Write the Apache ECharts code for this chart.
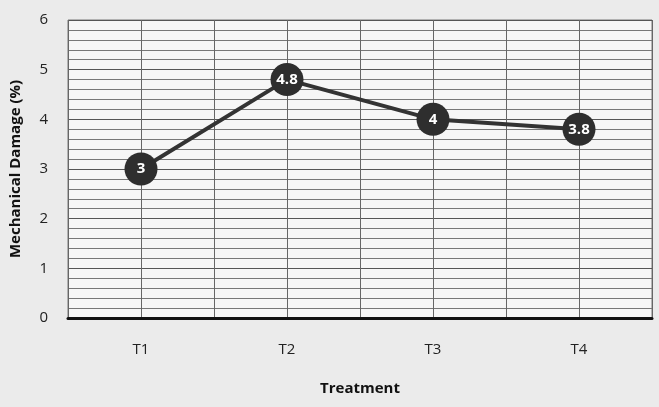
<!DOCTYPE html>
<html><head><meta charset="utf-8">
<script src="https://cdn.jsdelivr.net/npm/echarts@6/dist/echarts.min.js"></script>
<style>html,body{margin:0;padding:0;background:#ebebeb;}#c{width:659px;height:407px;}</style>
</head><body><div id="c"></div>
<script>
var categories = ['T1', 'T2', 'T3', 'T4'];
var damage = [3, 4.8, 4, 3.8];
var yTicks = [0, 1, 2, 3, 4, 5, 6];

var chart = echarts.init(document.getElementById('c'));
var font = 'Open Sans';
chart.setOption({
  backgroundColor: '#ebebeb',
  textStyle: { fontFamily: font },
  grid: { left: 68, right: 7, top: 20, bottom: 89, show: true, backgroundColor: '#f6f6f6', borderColor: '#777', borderWidth: 1 },
  xAxis: [{
    type: 'category',
    data: categories,
    boundaryGap: true,
    name: 'Treatment',
    nameLocation: 'middle',
    nameGap: 63,
    nameTextStyle: { fontWeight: 'bold', fontSize: 15, color: '#111', fontFamily: font },
    axisLine: { lineStyle: { color: '#111', width: 3 } },
    axisTick: { show: false },
    axisLabel: { fontSize: 15, color: '#222', margin: 24, fontFamily: font },
    splitLine: { show: false }
  }, {
    type: 'value',
    min: 0, max: 8, interval: 1,
    position: 'bottom',
    axisLine: { show: false }, axisTick: { show: false }, axisLabel: { show: false },
    splitLine: { show: true, lineStyle: { color: '#666', width: 1 } }
  }],
  yAxis: {
    type: 'value',
    min: 0, max: 6, interval: 1,
    name: 'Mechanical Damage (%)',
    nameLocation: 'middle',
    nameGap: 45,
    nameTextStyle: { fontWeight: 'bold', fontSize: 15, color: '#111', fontFamily: font },
    axisLine: { show: false },
    axisTick: { show: false },
    axisLabel: { fontSize: 15, color: '#222', margin: 20, fontFamily: font, formatter: function (v) { return yTicks.indexOf(v) >= 0 ? String(v) : ''; } },
    splitLine: { show: true, lineStyle: { color: '#555', width: 1 } },
    minorTick: { show: false, splitNumber: 5 },
    minorSplitLine: { show: true, lineStyle: { color: '#777', width: 1 } }
  },
  series: [{
    type: 'line',
    data: damage,
    xAxisIndex: 0,
    symbol: 'circle',
    symbolSize: 33,
    lineStyle: { color: '#333', width: 4 },
    itemStyle: { color: '#2e2e2e' },
    label: { show: true, position: 'inside', color: '#fff', fontWeight: 'bold', fontSize: 15, fontFamily: font },
    z: 5
  }]
});
</script></body></html>
